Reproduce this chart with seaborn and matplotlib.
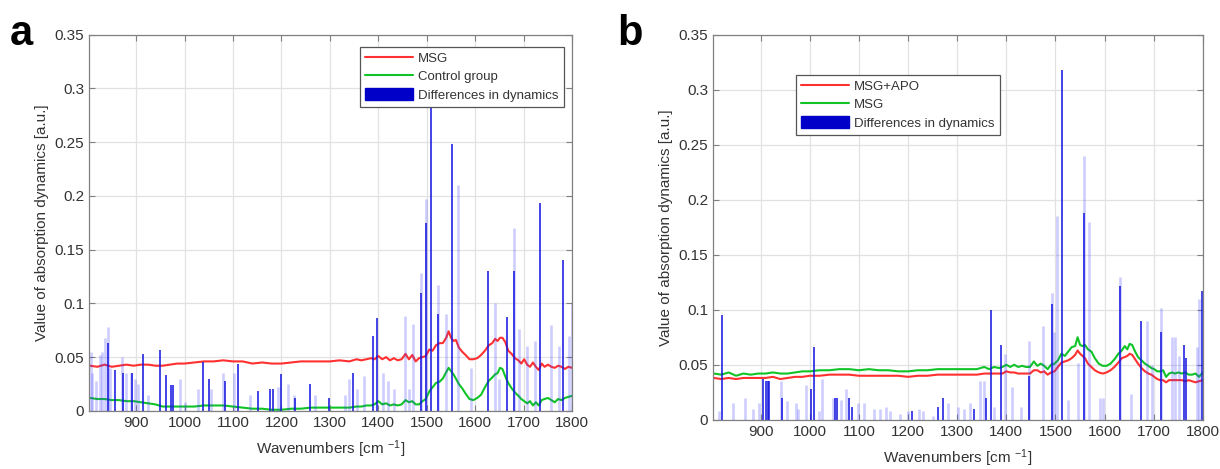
"""Absorption dynamics: MSG vs control (a) and MSG+APO vs MSG (b)"""

import numpy as np
import matplotlib
matplotlib.use('Agg')
import matplotlib.pyplot as plt
from matplotlib.lines import Line2D
from matplotlib.patches import Patch
import seaborn as sns

# --- Data ---
WAVENUMBERS = [805, 820, 835, 850, 865, 880, 895, 910, 925, 940, 955, 970, 985, 1000,
               1020, 1040, 1060, 1080, 1100, 1120, 1140, 1160, 1180, 1200, 1220, 1240,
               1260, 1280, 1300, 1320, 1340, 1355, 1365, 1375, 1385, 1392, 1400, 1408,
               1416, 1424, 1432, 1440, 1448, 1456, 1463, 1470, 1477, 1484, 1491, 1498,
               1505, 1512, 1519, 1526, 1533, 1540, 1545, 1550, 1555, 1560, 1566, 1573,
               1580, 1588, 1596, 1604, 1612, 1620, 1628, 1635, 1641, 1646, 1651, 1656,
               1662, 1668, 1675, 1682, 1689, 1695, 1701, 1707, 1713, 1719, 1725, 1731,
               1737, 1743, 1750, 1757, 1764, 1771, 1778, 1785, 1792, 1800]

A_MSG = [0.042, 0.041, 0.043, 0.041, 0.042, 0.043, 0.042, 0.043, 0.043, 0.042, 0.042, 0.043,
         0.044, 0.044, 0.045, 0.046, 0.046, 0.047, 0.046, 0.046, 0.044, 0.045, 0.044, 0.044,
         0.045, 0.046, 0.046, 0.046, 0.046, 0.047, 0.046, 0.048, 0.047, 0.048, 0.049, 0.048,
         0.051, 0.048, 0.050, 0.047, 0.049, 0.047, 0.048, 0.053, 0.048, 0.052, 0.046, 0.049,
         0.050, 0.051, 0.057, 0.056, 0.061, 0.063, 0.063, 0.068, 0.074, 0.068, 0.065, 0.066,
         0.059, 0.055, 0.052, 0.048, 0.048, 0.049, 0.052, 0.056, 0.061, 0.063, 0.067, 0.065,
         0.068, 0.068, 0.064, 0.056, 0.053, 0.049, 0.047, 0.044, 0.048, 0.043, 0.041, 0.045,
         0.041, 0.038, 0.044, 0.041, 0.043, 0.041, 0.040, 0.042, 0.041, 0.039, 0.041, 0.040]
A_CONTROL = [0.012, 0.011, 0.011, 0.010, 0.010, 0.009, 0.009, 0.008, 0.007, 0.006, 0.004, 0.004,
             0.004, 0.004, 0.004, 0.005, 0.005, 0.005, 0.004, 0.003, 0.002, 0.002, 0.001, 0.001,
             0.002, 0.002, 0.003, 0.003, 0.003, 0.003, 0.003, 0.004, 0.004, 0.005, 0.005, 0.006,
             0.009, 0.006, 0.007, 0.005, 0.006, 0.005, 0.006, 0.010, 0.008, 0.009, 0.006, 0.006,
             0.009, 0.011, 0.018, 0.022, 0.026, 0.027, 0.030, 0.036, 0.040, 0.037, 0.034, 0.030,
             0.025, 0.021, 0.016, 0.011, 0.010, 0.012, 0.015, 0.022, 0.028, 0.031, 0.034, 0.035,
             0.040, 0.039, 0.032, 0.026, 0.021, 0.017, 0.014, 0.011, 0.009, 0.007, 0.009, 0.005,
             0.008, 0.005, 0.010, 0.011, 0.012, 0.010, 0.008, 0.011, 0.010, 0.012, 0.013, 0.014]

B_MSG_APO = [0.038, 0.037, 0.038, 0.037, 0.038, 0.038, 0.038, 0.038, 0.039, 0.037, 0.038, 0.039,
             0.039, 0.040, 0.040, 0.041, 0.041, 0.041, 0.040, 0.040, 0.040, 0.040, 0.040, 0.039,
             0.040, 0.040, 0.041, 0.041, 0.041, 0.041, 0.041, 0.042, 0.042, 0.042, 0.042, 0.042,
             0.044, 0.043, 0.043, 0.042, 0.042, 0.042, 0.042, 0.045, 0.045, 0.043, 0.044, 0.041,
             0.043, 0.044, 0.048, 0.052, 0.053, 0.054, 0.056, 0.059, 0.063, 0.060, 0.058, 0.056,
             0.051, 0.048, 0.045, 0.043, 0.042, 0.043, 0.045, 0.048, 0.052, 0.056, 0.057, 0.058,
             0.060, 0.059, 0.055, 0.051, 0.047, 0.044, 0.042, 0.041, 0.039, 0.037, 0.036, 0.036,
             0.034, 0.036, 0.036, 0.036, 0.036, 0.036, 0.035, 0.036, 0.035, 0.034, 0.035, 0.036]
B_MSG = [0.042, 0.041, 0.043, 0.040, 0.042, 0.041, 0.042, 0.042, 0.043, 0.042, 0.042, 0.043,
         0.044, 0.044, 0.045, 0.045, 0.046, 0.046, 0.045, 0.046, 0.045, 0.045, 0.044, 0.044,
         0.045, 0.045, 0.046, 0.046, 0.046, 0.046, 0.046, 0.048, 0.046, 0.048, 0.047, 0.048,
         0.050, 0.048, 0.050, 0.048, 0.049, 0.048, 0.048, 0.053, 0.049, 0.051, 0.049, 0.046,
         0.050, 0.051, 0.054, 0.060, 0.058, 0.062, 0.066, 0.067, 0.075, 0.068, 0.067, 0.068,
         0.064, 0.062, 0.056, 0.051, 0.049, 0.049, 0.051, 0.055, 0.060, 0.063, 0.067, 0.064,
         0.069, 0.068, 0.062, 0.057, 0.054, 0.051, 0.049, 0.047, 0.046, 0.044, 0.044, 0.045,
         0.039, 0.042, 0.043, 0.042, 0.043, 0.042, 0.043, 0.041, 0.041, 0.042, 0.039, 0.043]

# differences in dynamics: faint (single) and strong (overlapping) bars
A_FAINT_X = [806, 809, 817, 825, 830, 835, 842, 847, 872, 880, 889, 898, 903, 924, 991, 1002,
             1027, 1055, 1080, 1102, 1136, 1193, 1213, 1225, 1270, 1331, 1339, 1356, 1371, 1410,
             1420, 1432, 1454, 1464, 1472, 1488, 1499, 1523, 1539, 1564, 1592, 1640, 1649, 1679,
             1691, 1707, 1723, 1756, 1772, 1794, 1799]
A_FAINT_Y = [0.055, 0.035, 0.028, 0.052, 0.055, 0.068, 0.078, 0.040, 0.050, 0.035, 0.035, 0.030,
             0.025, 0.015, 0.030, 0.008, 0.020, 0.020, 0.035, 0.035, 0.015, 0.022, 0.025, 0.015,
             0.015, 0.015, 0.030, 0.020, 0.032, 0.035, 0.028, 0.020, 0.088, 0.020, 0.081, 0.128,
             0.197, 0.117, 0.090, 0.210, 0.040, 0.100, 0.030, 0.170, 0.076, 0.060, 0.065, 0.080,
             0.060, 0.070, 0.100]
A_STRONG_X = [842, 857, 873, 892, 915, 950, 962, 972, 977, 1038, 1050, 1084, 1110, 1152, 1177,
              1183, 1200, 1229, 1258, 1298, 1347, 1389, 1398, 1488, 1499, 1509, 1523, 1553, 1626,
              1665, 1679, 1734, 1781]
A_STRONG_Y = [0.063, 0.038, 0.035, 0.035, 0.053, 0.057, 0.033, 0.024, 0.024, 0.045, 0.030, 0.028,
              0.044, 0.018, 0.020, 0.020, 0.034, 0.012, 0.025, 0.012, 0.035, 0.070, 0.086, 0.110,
              0.175, 0.290, 0.090, 0.248, 0.130, 0.087, 0.130, 0.193, 0.140]

B_FAINT_X = [815, 843, 868, 884, 896, 942, 954, 972, 976, 992, 1019, 1025, 1047, 1063, 1074, 1099,
             1111, 1131, 1143, 1155, 1163, 1183, 1199, 1223, 1231, 1250, 1282, 1302, 1314, 1326,
             1346, 1354, 1374, 1398, 1412, 1430, 1446, 1475, 1492, 1497, 1503, 1525, 1545, 1557,
             1569, 1591, 1597, 1631, 1653, 1687, 1696, 1714, 1737, 1744, 1752, 1788, 1792]
B_FAINT_Y = [0.008, 0.015, 0.020, 0.010, 0.015, 0.035, 0.017, 0.015, 0.010, 0.032, 0.008, 0.037,
             0.020, 0.018, 0.028, 0.015, 0.015, 0.010, 0.010, 0.012, 0.008, 0.005, 0.008, 0.010,
             0.008, 0.003, 0.015, 0.012, 0.010, 0.015, 0.035, 0.035, 0.012, 0.060, 0.030, 0.012,
             0.072, 0.085, 0.115, 0.080, 0.185, 0.018, 0.052, 0.240, 0.180, 0.020, 0.020, 0.130,
             0.023, 0.090, 0.050, 0.102, 0.075, 0.075, 0.058, 0.066, 0.110]
B_STRONG_X = [821, 904, 910, 914, 918, 943, 1002, 1008, 1051, 1055, 1079, 1085, 1208, 1261, 1272,
              1334, 1358, 1368, 1390, 1446, 1492, 1513, 1557, 1631, 1673, 1714, 1762, 1766, 1798]
B_STRONG_Y = [0.095, 0.037, 0.035, 0.035, 0.035, 0.020, 0.028, 0.066, 0.020, 0.020, 0.020, 0.012,
              0.008, 0.012, 0.020, 0.010, 0.020, 0.100, 0.068, 0.040, 0.105, 0.318, 0.188, 0.122,
              0.090, 0.080, 0.068, 0.056, 0.117]

X_TICKS = [900, 1000, 1100, 1200, 1300, 1400, 1500, 1600, 1700, 1800]
Y_TICKS = [0, 0.05, 0.1, 0.15, 0.2, 0.25, 0.3, 0.35]
Y_TICK_LABELS = ['0', '0.05', '0.1', '0.15', '0.2', '0.25', '0.3', '0.35']

RED = '#ff3030'
GREEN = '#10c428'
BLUE = '#0000c8'
TEXT = '#333333'
SPINE = '#808080'

sns.set_style('whitegrid', {'grid.color': '#e2e2e2', 'axes.edgecolor': SPINE})
plt.rcParams['font.family'] = ['Liberation Sans', 'DejaVu Sans']
plt.rcParams['mathtext.default'] = 'regular'


def draw_panel(ax, red, green, faint_x, faint_y, strong_x, strong_y, labels, legend_box):
    sns.lineplot(x=WAVENUMBERS, y=red, ax=ax, color=RED, lw=1.5, sort=False)
    sns.lineplot(x=WAVENUMBERS, y=green, ax=ax, color=GREEN, lw=1.5, sort=False)
    ax.vlines(faint_x, 0, faint_y, colors='#3a3aff', alpha=0.25, lw=1.9)
    ax.vlines(strong_x, 0, strong_y, colors='#1414e0', alpha=0.8, lw=1.4)

    ax.set_xlim(803, 1800)
    ax.set_ylim(0, 0.35)
    ax.set_xticks(X_TICKS)
    ax.set_yticks(Y_TICKS)
    ax.set_yticklabels(Y_TICK_LABELS)
    ax.tick_params(direction='in', length=4, width=0.8, colors=SPINE, labelcolor=TEXT,
                   labelsize=11, top=True, right=True, bottom=True, left=True)
    ax.grid(True, color='#e2e2e2', lw=0.9)
    for sp in ax.spines.values():
        sp.set_color(SPINE)
        sp.set_linewidth(0.9)
    ax.set_xlabel('Wavenumbers [cm $^{-1}$]', fontsize=11, color=TEXT, labelpad=6)
    ax.set_ylabel('Value of absorption dynamics [a.u.]', fontsize=11, color=TEXT, labelpad=4)

    handles = [Line2D([], [], color=RED, lw=1.5),
               Line2D([], [], color=GREEN, lw=1.5),
               Patch(facecolor=BLUE, edgecolor=BLUE)]
    leg = ax.legend(handles, labels, loc='upper left', bbox_to_anchor=legend_box,
                    fontsize=9.5, frameon=True, fancybox=False, framealpha=1,
                    handlelength=3.6, handleheight=1.0, handletextpad=0.4, borderpad=0.4,
                    labelspacing=0.35, borderaxespad=0)
    leg.get_frame().set_edgecolor('#555555')
    leg.get_frame().set_linewidth(0.9)
    for t in leg.get_texts():
        t.set_color(TEXT)


fig = plt.figure(figsize=(12.2, 4.69), dpi=100)
ax_a = fig.add_axes([0.073, 0.124, 0.396, 0.802])
ax_b = fig.add_axes([0.5844, 0.105, 0.4016, 0.821])

draw_panel(ax_a, A_MSG, A_CONTROL, A_FAINT_X, A_FAINT_Y, A_STRONG_X, A_STRONG_Y,
           ['MSG', 'Control group', 'Differences in dynamics'], (0.561, 0.968))
draw_panel(ax_b, B_MSG_APO, B_MSG, B_FAINT_X, B_FAINT_Y, B_STRONG_X, B_STRONG_Y,
           ['MSG+APO', 'MSG', 'Differences in dynamics'], (0.169, 0.896))

fig.text(0.008, 0.905, 'a', fontsize=30, fontweight='bold', color='black')
fig.text(0.506, 0.905, 'b', fontsize=30, fontweight='bold', color='black')

fig.savefig('out.png', dpi=100)
plt.close(fig)
